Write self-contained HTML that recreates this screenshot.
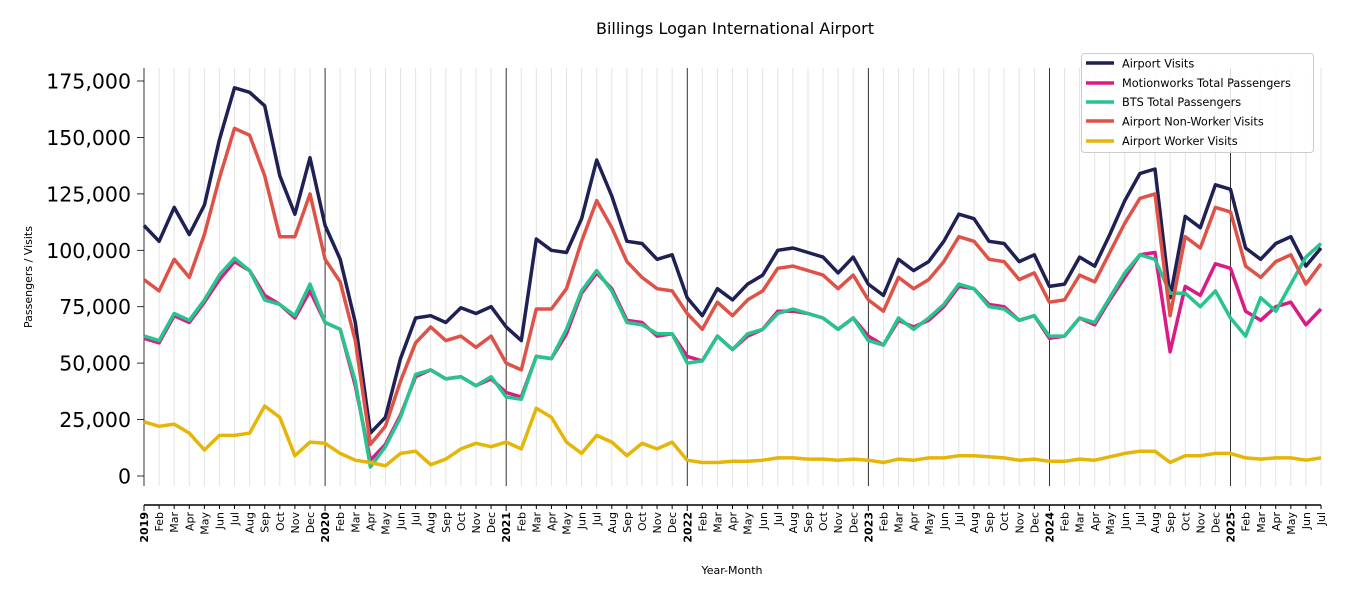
<!DOCTYPE html>
<html><head><meta charset="utf-8"><style>
body{margin:0;background:#fff}
svg{display:block;font-family:"DejaVu Sans","Liberation Sans",sans-serif}
.ml{font-size:11px}
.yr{font-size:11px;font-weight:bold}
</style></head><body>
<svg id="s" width="1350" height="600" viewBox="0 0 1350 600" xmlns="http://www.w3.org/2000/svg">
<rect width="1350" height="600" fill="#fff"/>
<g id="grid"></g>
<line x1="144" y1="68" x2="144" y2="486" stroke="#000" stroke-width="0.8"/>
<g stroke="#000" stroke-width="0.8">
<line x1="137" y1="476" x2="144" y2="476"/><line x1="137" y1="419.6" x2="144" y2="419.6"/><line x1="137" y1="363.1" x2="144" y2="363.1"/><line x1="137" y1="306.7" x2="144" y2="306.7"/><line x1="137" y1="250.3" x2="144" y2="250.3"/><line x1="137" y1="193.9" x2="144" y2="193.9"/><line x1="137" y1="137.4" x2="144" y2="137.4"/><line x1="137" y1="81" x2="144" y2="81"/>
</g>
<g font-size="20.5" text-anchor="end" fill="#000">
<text x="131" y="483.5">0</text><text x="131" y="427">25,000</text><text x="131" y="370.6">50,000</text><text x="131" y="314.2">75,000</text><text x="131" y="257.8">100,000</text><text x="131" y="201.4">125,000</text><text x="131" y="144.9">150,000</text><text x="131" y="88.5">175,000</text>
</g>
<text transform="translate(32,277) rotate(-90)" font-size="11" text-anchor="middle">Passengers / Visits</text>
<text x="735" y="34" font-size="16" text-anchor="middle">Billings Logan International Airport</text>
<text x="732" y="574" font-size="11" text-anchor="middle">Year-Month</text>
<line x1="144" y1="505" x2="1321" y2="505" stroke="#000" stroke-width="1.5"/>
<g id="xt"></g>
<g id="lines"></g>
<g id="labels">
<g transform="translate(0,0)"><text class="yr" transform="translate(148,512) rotate(-90)" text-anchor="end">2019</text><text class="ml" transform="translate(163.1,512) rotate(-90)" text-anchor="end">Feb</text><text class="ml" transform="translate(178.2,512) rotate(-90)" text-anchor="end">Mar</text><text class="ml" transform="translate(193.3,512) rotate(-90)" text-anchor="end">Apr</text><text class="ml" transform="translate(208.4,512) rotate(-90)" text-anchor="end">May</text><text class="ml" transform="translate(223.5,512) rotate(-90)" text-anchor="end">Jun</text><text class="ml" transform="translate(238.5,512) rotate(-90)" text-anchor="end">Jul</text><text class="ml" transform="translate(253.6,512) rotate(-90)" text-anchor="end">Aug</text><text class="ml" transform="translate(268.7,512) rotate(-90)" text-anchor="end">Sep</text><text class="ml" transform="translate(283.8,512) rotate(-90)" text-anchor="end">Oct</text><text class="ml" transform="translate(298.9,512) rotate(-90)" text-anchor="end">Nov</text><text class="ml" transform="translate(314,512) rotate(-90)" text-anchor="end">Dec</text></g>
<g transform="translate(181.1,0)"><text class="yr" transform="translate(148,512) rotate(-90)" text-anchor="end">2020</text><text class="ml" transform="translate(163.1,512) rotate(-90)" text-anchor="end">Feb</text><text class="ml" transform="translate(178.2,512) rotate(-90)" text-anchor="end">Mar</text><text class="ml" transform="translate(193.3,512) rotate(-90)" text-anchor="end">Apr</text><text class="ml" transform="translate(208.4,512) rotate(-90)" text-anchor="end">May</text><text class="ml" transform="translate(223.5,512) rotate(-90)" text-anchor="end">Jun</text><text class="ml" transform="translate(238.5,512) rotate(-90)" text-anchor="end">Jul</text><text class="ml" transform="translate(253.6,512) rotate(-90)" text-anchor="end">Aug</text><text class="ml" transform="translate(268.7,512) rotate(-90)" text-anchor="end">Sep</text><text class="ml" transform="translate(283.8,512) rotate(-90)" text-anchor="end">Oct</text><text class="ml" transform="translate(298.9,512) rotate(-90)" text-anchor="end">Nov</text><text class="ml" transform="translate(314,512) rotate(-90)" text-anchor="end">Dec</text></g>
<g transform="translate(362.2,0)"><text class="yr" transform="translate(148,512) rotate(-90)" text-anchor="end">2021</text><text class="ml" transform="translate(163.1,512) rotate(-90)" text-anchor="end">Feb</text><text class="ml" transform="translate(178.2,512) rotate(-90)" text-anchor="end">Mar</text><text class="ml" transform="translate(193.3,512) rotate(-90)" text-anchor="end">Apr</text><text class="ml" transform="translate(208.4,512) rotate(-90)" text-anchor="end">May</text><text class="ml" transform="translate(223.5,512) rotate(-90)" text-anchor="end">Jun</text><text class="ml" transform="translate(238.5,512) rotate(-90)" text-anchor="end">Jul</text><text class="ml" transform="translate(253.6,512) rotate(-90)" text-anchor="end">Aug</text><text class="ml" transform="translate(268.7,512) rotate(-90)" text-anchor="end">Sep</text><text class="ml" transform="translate(283.8,512) rotate(-90)" text-anchor="end">Oct</text><text class="ml" transform="translate(298.9,512) rotate(-90)" text-anchor="end">Nov</text><text class="ml" transform="translate(314,512) rotate(-90)" text-anchor="end">Dec</text></g>
<g transform="translate(543.3,0)"><text class="yr" transform="translate(148,512) rotate(-90)" text-anchor="end">2022</text><text class="ml" transform="translate(163.1,512) rotate(-90)" text-anchor="end">Feb</text><text class="ml" transform="translate(178.2,512) rotate(-90)" text-anchor="end">Mar</text><text class="ml" transform="translate(193.3,512) rotate(-90)" text-anchor="end">Apr</text><text class="ml" transform="translate(208.4,512) rotate(-90)" text-anchor="end">May</text><text class="ml" transform="translate(223.5,512) rotate(-90)" text-anchor="end">Jun</text><text class="ml" transform="translate(238.5,512) rotate(-90)" text-anchor="end">Jul</text><text class="ml" transform="translate(253.6,512) rotate(-90)" text-anchor="end">Aug</text><text class="ml" transform="translate(268.7,512) rotate(-90)" text-anchor="end">Sep</text><text class="ml" transform="translate(283.8,512) rotate(-90)" text-anchor="end">Oct</text><text class="ml" transform="translate(298.9,512) rotate(-90)" text-anchor="end">Nov</text><text class="ml" transform="translate(314,512) rotate(-90)" text-anchor="end">Dec</text></g>
<g transform="translate(724.4,0)"><text class="yr" transform="translate(148,512) rotate(-90)" text-anchor="end">2023</text><text class="ml" transform="translate(163.1,512) rotate(-90)" text-anchor="end">Feb</text><text class="ml" transform="translate(178.2,512) rotate(-90)" text-anchor="end">Mar</text><text class="ml" transform="translate(193.3,512) rotate(-90)" text-anchor="end">Apr</text><text class="ml" transform="translate(208.4,512) rotate(-90)" text-anchor="end">May</text><text class="ml" transform="translate(223.5,512) rotate(-90)" text-anchor="end">Jun</text><text class="ml" transform="translate(238.5,512) rotate(-90)" text-anchor="end">Jul</text><text class="ml" transform="translate(253.6,512) rotate(-90)" text-anchor="end">Aug</text><text class="ml" transform="translate(268.7,512) rotate(-90)" text-anchor="end">Sep</text><text class="ml" transform="translate(283.8,512) rotate(-90)" text-anchor="end">Oct</text><text class="ml" transform="translate(298.9,512) rotate(-90)" text-anchor="end">Nov</text><text class="ml" transform="translate(314,512) rotate(-90)" text-anchor="end">Dec</text></g>
<g transform="translate(905.5,0)"><text class="yr" transform="translate(148,512) rotate(-90)" text-anchor="end">2024</text><text class="ml" transform="translate(163.1,512) rotate(-90)" text-anchor="end">Feb</text><text class="ml" transform="translate(178.2,512) rotate(-90)" text-anchor="end">Mar</text><text class="ml" transform="translate(193.3,512) rotate(-90)" text-anchor="end">Apr</text><text class="ml" transform="translate(208.4,512) rotate(-90)" text-anchor="end">May</text><text class="ml" transform="translate(223.5,512) rotate(-90)" text-anchor="end">Jun</text><text class="ml" transform="translate(238.5,512) rotate(-90)" text-anchor="end">Jul</text><text class="ml" transform="translate(253.6,512) rotate(-90)" text-anchor="end">Aug</text><text class="ml" transform="translate(268.7,512) rotate(-90)" text-anchor="end">Sep</text><text class="ml" transform="translate(283.8,512) rotate(-90)" text-anchor="end">Oct</text><text class="ml" transform="translate(298.9,512) rotate(-90)" text-anchor="end">Nov</text><text class="ml" transform="translate(314,512) rotate(-90)" text-anchor="end">Dec</text></g>
<g transform="translate(1086.6,0)"><text class="yr" transform="translate(148,512) rotate(-90)" text-anchor="end">2025</text><text class="ml" transform="translate(163.1,512) rotate(-90)" text-anchor="end">Feb</text><text class="ml" transform="translate(178.2,512) rotate(-90)" text-anchor="end">Mar</text><text class="ml" transform="translate(193.3,512) rotate(-90)" text-anchor="end">Apr</text><text class="ml" transform="translate(208.4,512) rotate(-90)" text-anchor="end">May</text><text class="ml" transform="translate(223.5,512) rotate(-90)" text-anchor="end">Jun</text><text class="ml" transform="translate(238.5,512) rotate(-90)" text-anchor="end">Jul</text></g>
</g>
<g>
<rect x="1081.5" y="53.5" width="232" height="99" rx="3" fill="#fff" fill-opacity="0.85" stroke="#ccc"/>
<g stroke-width="3.5">
<line x1="1086" y1="63" x2="1114" y2="63" stroke="#1f2054"/>
<line x1="1086" y1="83" x2="1114" y2="83" stroke="#d81b85"/>
<line x1="1086" y1="102" x2="1114" y2="102" stroke="#27c48e"/>
<line x1="1086" y1="121" x2="1114" y2="121" stroke="#de5248"/>
<line x1="1086" y1="141" x2="1114" y2="141" stroke="#e5b607"/>
</g>
<g font-size="11.3">
<text x="1122" y="67.5">Airport Visits</text>
<text x="1122" y="87">Motionworks Total Passengers</text>
<text x="1122" y="106">BTS Total Passengers</text>
<text x="1122" y="125.5">Airport Non-Worker Visits</text>
<text x="1122" y="145">Airport Worker Visits</text>
</g>
</g>
</svg>
<script>
(function(){
var NS="http://www.w3.org/2000/svg";
function X(i){return 144+i*15.09;}
function Y(v){return 476-v*395/175;}
function el(n,a,p){var e=document.createElementNS(NS,n);for(var k in a)e.setAttribute(k,a[k]);document.getElementById(p).appendChild(e);}
for(var i=0;i<=78;i++){
 var yr=i%12==0;
 if(i>0) el("line",{x1:X(i),y1:68,x2:X(i),y2:486,stroke:yr?"#000":"#e3e3e3","stroke-width":yr?0.8:1},"grid");
 el("line",{x1:X(i),y1:505,x2:X(i),y2:yr?511:509,stroke:"#000","stroke-width":1},"xt");
}
var D={
"#1f2054":[111,104,119,107,120,149,172,170,164,133,116,141,111,96,68,19,26,52,70,71,68,74.5,72,75,66,60,105,100,99,114,140,124,104,103,96,98,79,71,83,78,85,89,100,101,99,97,90,97,85,80,96,91,95,104,116,114,104,103,95,98,84,85,97,93,107,122,134,136,79,115,110,129,127,101,96,103,106,93,101],
"#d81b85":[61,59,71,68,77,87,95,91,80,76,70,82,68,65,40,7,14,27,44,47,43,44,40,43,37,35,53,52,63,81,90,83,69,68,62,63,53,51,62,56,62,65,73,73,72,70,65,70,62,58,69,66,69,75,84,83,76,75,69,71,61,62,70,67,78,88,98,99,55,84,80,94,92,73,69,75,77,67,74],
"#27c48e":[62,60,72,69,78,89,96.5,91,78,76,71,85,68,65,42,4,13,26,45,47,43,44,40,44,35,34,53,52,65,82,91,82,68,67,63,63,50,51,62,56,63,65,72,74,72,70,65,70,60,58,70,65,70,76,85,83,75,74,69,71,62,62,70,68,79,90,98,96,81,81,75,82,70,62,79,73,85,97,103],
"#de5248":[87,82,96,88,107,132,154,151,133,106,106,125,96,86,60,14,22,42,59,66,60,62,57,62,50,47,74,74,83,104,122,110,95,88,83,82,72,65,77,71,78,82,92,93,91,89,83,89,78,73,88,83,87,95,106,104,96,95,87,90,77,78,89,86,99,112,123,125,71,106,101,119,117,93,88,95,98,85,94],
"#e5b607":[24,22,23,19,11.5,18,18,19,31,26,9,15,14.5,10,7,6,4.5,10,11,5,7.5,12,14.5,13,15,12,30,26,15,10,18,15,9,14.5,12,15,7,6,6,6.5,6.5,7,8,8,7.5,7.5,7,7.5,7,6,7.5,7,8,8,9,9,8.5,8,7,7.5,6.5,6.5,7.5,7,8.5,10,11,11,6,9,9,10,10,8,7.5,8,8,7,8]
};
for(var c in D){var p=D[c].map(function(v,i){return X(i).toFixed(1)+","+Y(v).toFixed(1);}).join(" ");
 el("polyline",{points:p,fill:"none",stroke:c,"stroke-width":3.5,"stroke-linejoin":"round"},"lines");}
})();
</script>
</body></html>
